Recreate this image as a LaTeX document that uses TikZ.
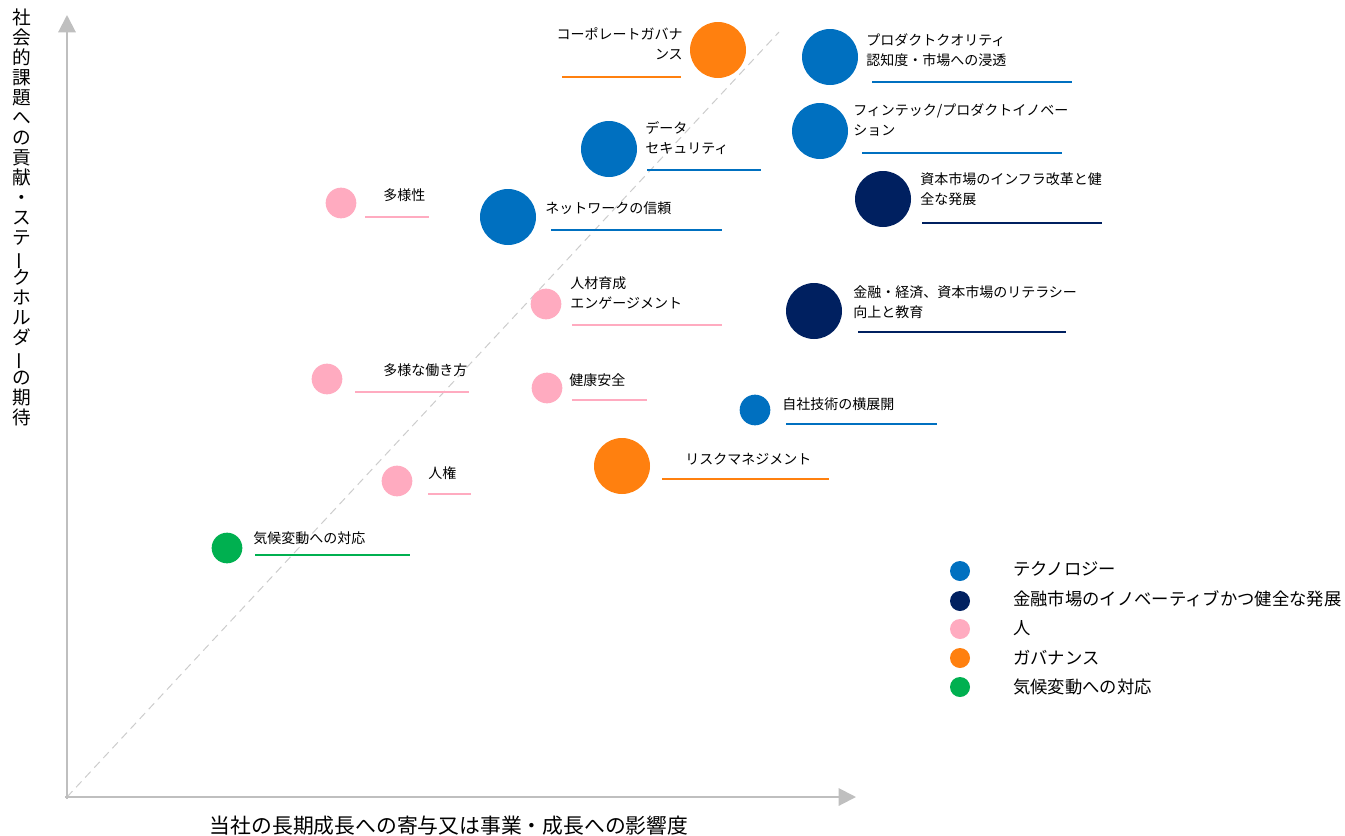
\documentclass[tikz,border=0pt]{standalone}
\usepackage{fontspec}
\setmainfont{Noto Sans CJK JP}
\usetikzlibrary{arrows.meta}
\definecolor{tech}{HTML}{0070C0}
\definecolor{fin}{HTML}{002060}
\definecolor{hito}{HTML}{FFABC0}
\definecolor{gov}{HTML}{FF800F}
\definecolor{clim}{HTML}{00B050}
\definecolor{axisgray}{HTML}{BFBFBF}

\begin{document}
\begin{tikzpicture}[x=0.75pt,y=-0.75pt,line cap=butt,
	bub/.style={circle,inner sep=0pt,draw=none},
	big/.style={bub,minimum size=42pt},
	small/.style={bub,minimum size=23pt},
	lbl/.style={inner sep=0pt,anchor=west,align=left,font=\fontsize{10.5}{15}\selectfont},
	uline/.style={line width=1.5pt},
	axisline/.style={axisgray,line width=1.5pt,-{Triangle[length=13pt,width=13pt]}},
	keydot/.style={bub,minimum size=15pt},
	keytxt/.style={inner sep=0pt,anchor=west,font=\fontsize{13}{15}\selectfont}]
	\useasboundingbox (0,0) rectangle (1345,835);
	% axes
	\coordinate (O) at (67,797);
	\coordinate (ytop) at (67,15);
	\coordinate (xend) at (856,797);
	\coordinate (dtop) at (779,32);
	\draw [axisgray!80,line width=0.75pt,dash pattern=on 6pt off 4pt] (O) -- (dtop);
	\draw [axisline] (67,799) -- (ytop);
	\draw [axisline] (65,797) -- (xend);
	\node [inner sep=0pt,anchor=north,align=center,font=\fontsize{14}{15}\selectfont] (ylab) at (22,9)
		{社\\会\\的\\課\\題\\へ\\の\\貢\\献\\・\\ス\\テ\\\smash{\rotatebox[origin=c]{90}{ー}}\\ク\\ホ\\ル\\ダ\\\smash{\rotatebox[origin=c]{90}{ー}}\\の\\期\\待};
	\node [inner sep=0pt,font=\fontsize{15.6}{18}\selectfont] (xlab) at (449,826) {当社の長期成長への寄与又は事業・成長への影響度};
	% bubbles
	\node [big,fill=gov] (cg) at (718,50) {};
	\node [lbl,anchor=east,align=right] (cgt) at (683,44) {コーポレートガバナ\\ンス};
	\draw [uline,gov] (562,77) -- (681,77);
	\node [big,fill=tech] (pq) at (830,57) {};
	\node [lbl] (pqt) at (866,50) {プロダクトクオリティ\\認知度・市場への浸透};
	\draw [uline,tech] (872,82) -- (1072,82);
	\node [big,fill=tech] (ft) at (820,131) {};
	\node [lbl] (ftt) at (853,120) {フィンテック/プロダクトイノベー\\ション};
	\draw [uline,tech] (862,153) -- (1062,153);
	\node [big,fill=tech] (ds) at (609,149) {};
	\node [lbl] (dst) at (645,138) {データ\\セキュリティ};
	\draw [uline,tech] (647,170) -- (761,170);
	\node [big,fill=fin] (inf) at (883,199) {};
	\node [lbl] (inft) at (920,189) {資本市場のインフラ改革と健\\全な発展};
	\draw [uline,fin] (922,223) -- (1102,223);
	\node [small,fill=hito] (div) at (341,203) {};
	\node [lbl] (divt) at (383,195) {多様性};
	\draw [uline,hito] (365,217) -- (429,217);
	\node [big,fill=tech] (nw) at (508,217) {};
	\node [lbl] (nwt) at (545,208) {ネットワークの信頼};
	\draw [uline,tech] (551,230) -- (722,230);
	\node [small,fill=hito] (hr) at (546,304) {};
	\node [lbl] (hrt) at (570,293) {人材育成\\エンゲージメント};
	\draw [uline,hito] (572,325) -- (722,325);
	\node [big,fill=fin] (lit) at (814,311) {};
	\node [lbl] (litt) at (853,302) {金融・経済、資本市場のリテラシー\\向上と教育};
	\draw [uline,fin] (858,332) -- (1066,332);
	\node [small,fill=hito] (ws) at (327,379) {};
	\node [lbl] (wst) at (383,370) {多様な働き方};
	\draw [uline,hito] (355,392) -- (469,392);
	\node [small,fill=hito] (hs) at (547,388) {};
	\node [lbl] (hst) at (569,380) {健康安全};
	\draw [uline,hito] (572,400) -- (647,400);
	\node [small,fill=tech] (te) at (755,410) {};
	\node [lbl] (tet) at (782,404) {自社技術の横展開};
	\draw [uline,tech] (786,424) -- (937,424);
	\node [big,fill=gov] (rm) at (622,466) {};
	\node [lbl] (rmt) at (685,459) {リスクマネジメント};
	\draw [uline,gov] (662,479) -- (829,479);
	\node [small,fill=hito] (rt) at (397,481) {};
	\node [lbl] (rtt) at (428,473) {人権};
	\draw [uline,hito] (428,494) -- (471,494);
	\node [small,fill=clim] (cc) at (227,548) {};
	\node [lbl] (cct) at (253,538) {気候変動への対応};
	\draw [uline,clim] (255,555) -- (410,555);
	% legend
	\node [keydot,fill=tech] (k1) at (960,571) {};
	\node [keytxt] (k1t) at (1013,569) {テクノロジー};
	\node [keydot,fill=fin] (k2) at (960,601) {};
	\node [keytxt] (k2t) at (1013,599) {金融市場のイノベーティブかつ健全な発展};
	\node [keydot,fill=hito] (k3) at (960,629) {};
	\node [keytxt] (k3t) at (1013,628) {人};
	\node [keydot,fill=gov] (k4) at (960,658) {};
	\node [keytxt] (k4t) at (1013,658) {ガバナンス};
	\node [keydot,fill=clim] (k5) at (960,687) {};
	\node [keytxt] (k5t) at (1013,687) {気候変動への対応};
\end{tikzpicture}
\end{document}
